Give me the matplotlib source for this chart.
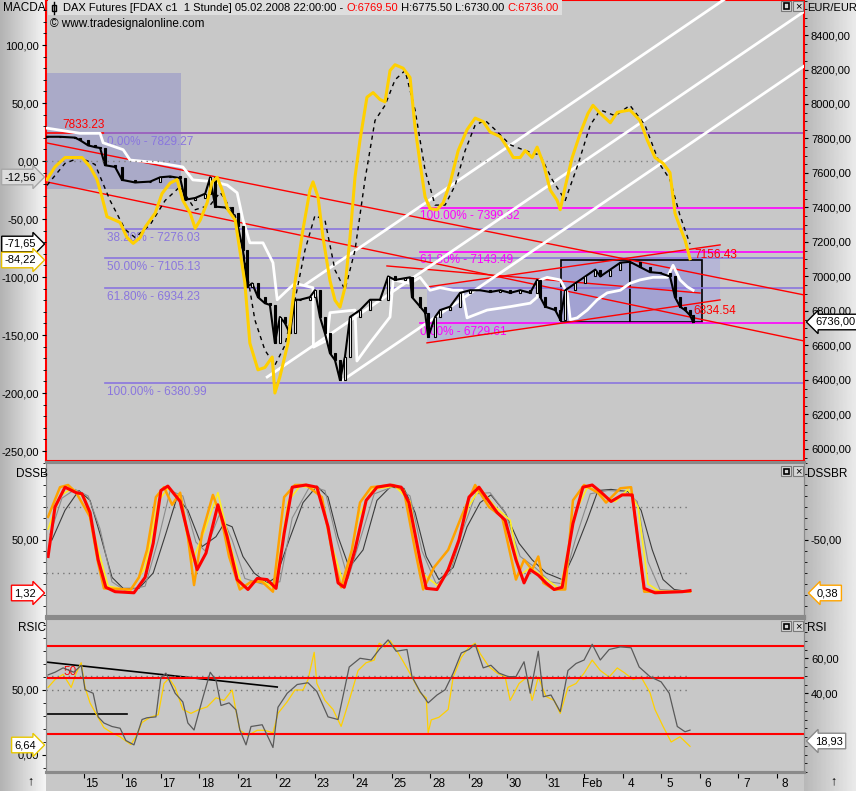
import matplotlib
matplotlib.use('Agg')
import matplotlib.pyplot as plt
import numpy as np
from matplotlib.patches import Rectangle, Polygon
from matplotlib.lines import Line2D
from matplotlib.ticker import FixedLocator, FixedFormatter, MultipleLocator, FuncFormatter

plt.rcParams['font.family'] = ['Liberation Sans', 'DejaVu Sans']
plt.rcParams['font.size'] = 8

W, H = 856, 791

# time axis: trading days since Mon 14 Jan 2008 (1 = Jan 15, ..., 14 = Feb 1, 15 = Feb 4)
day_ticks = list(range(1, 20))
day_labels = ['15', '16', '17', '18', '21', '22', '23', '24', '25', '28', '29', '30', '31',
              'Feb', '4', '5', '6', '7', '8']

# ---------------- DAX future closes ----------------
price_t = [0.05, 0.39, 0.78, 0.91, 1.12, 1.30, 1.43, 1.56, 1.82, 2.00, 2.34, 2.73, 2.99, 3.25, 3.51,
           3.64, 3.90, 4.16, 4.29, 4.42, 4.68, 4.86, 5.01, 5.14, 5.25, 5.38, 5.53, 5.71, 5.84, 5.97,
           6.10, 6.23, 6.36, 6.49, 6.62, 6.88, 7.01, 7.14, 7.27, 7.40, 7.53, 7.66, 7.79, 7.92, 8.18,
           8.44, 8.70, 8.91, 9.09, 9.35, 9.48, 9.53, 9.74, 9.87, 9.95, 10.13, 10.26, 10.52, 10.78,
           11.04, 11.30, 11.56, 11.82, 12.08, 12.34, 12.60, 12.78, 12.86, 12.99, 13.25, 13.38, 13.51,
           13.77, 14.03, 14.29, 14.42, 14.68, 14.94, 15.19, 15.45, 15.71, 15.97, 16.23, 16.36, 16.49,
           16.62, 16.75, 16.83]
price_c = [7810, 7810, 7805, 7790, 7760, 7750, 7745, 7645, 7635, 7560, 7545, 7550, 7575, 7580, 7570,
           7445, 7455, 7480, 7575, 7405, 7400, 7370, 7290, 7155, 6940, 6960, 6880, 6845, 6835, 6615,
           6765, 6730, 6670, 6865, 6865, 6880, 6920, 6765, 6670, 6555, 6515, 6400, 6535, 6765, 6805,
           6865, 6865, 7000, 6980, 6990, 6995, 6880, 6825, 6790, 6650, 6765, 6805, 6825, 6905,
           6920, 6920, 6910, 6920, 6905, 6920, 6905, 6980, 6880, 6825, 6805, 6750, 6920,
           6960, 7000, 7040, 7000, 7040, 7080, 7085, 7055, 7025, 7020, 7000, 6880, 6825,
           6805, 6775, 6736]

# white trailing average
wma_t = [0.05, 0.91, 1.43, 1.51, 2.03, 2.21, 2.91, 3.58, 3.84, 4.36, 4.73, 4.99, 5.14, 5.32, 5.66,
         5.92, 6.03, 6.29, 6.49, 6.96, 6.97, 7.32, 7.40, 8.05, 8.10, 8.44, 8.96, 9.04, 9.48, 9.74,
         10.00, 10.26, 10.60, 10.83, 10.96, 11.48, 12.08, 12.60, 12.78, 12.86, 13.04, 13.38, 13.56,
         13.64, 13.82, 14.08, 14.34, 14.60, 14.94, 15.19, 15.45, 15.79, 16.16, 16.31, 16.49, 16.68, 16.83]
wma_v = [7860, 7830, 7830, 7775, 7735, 7675, 7660, 7635, 7560, 7550, 7530, 7485, 7330, 7195, 7195,
         7080, 6865, 6920, 6960, 6935, 6590, 6630, 6790, 6805, 6510, 6615, 6765, 6980, 6960, 6995,
         6920, 6935, 6920, 6920, 6760, 6805, 6825, 6845, 6880, 6980, 6995, 6980, 6905,
         6750, 6760, 6805, 6865, 6905, 6920, 6960, 6980, 6995, 6995, 7065, 6980, 6940, 6920]

# MACD (yellow) and signal (black dashed)
macd_t = [0.05, 0.26, 0.52, 0.78, 0.96, 1.17, 1.35, 1.48, 1.61, 1.82, 1.95, 2.13, 2.29, 2.47, 2.60,
          2.86, 3.04, 3.25, 3.43, 3.58, 3.77, 3.90, 4.03, 4.21, 4.34, 4.47, 4.60, 4.75, 4.94, 5.06,
          5.19, 5.32, 5.53, 5.71, 5.90, 5.97, 6.10, 6.31, 6.49, 6.70, 6.88, 6.96, 7.09, 7.22, 7.40,
          7.53, 7.66, 7.79, 7.92, 8.05, 8.18, 8.36, 8.52, 8.70, 8.83, 8.96, 9.09, 9.30, 9.48, 9.61,
          9.74, 9.87, 10.00, 10.18, 10.34, 10.52, 10.73, 10.96, 11.17, 11.38, 11.56, 11.82, 12.00,
          12.16, 12.34, 12.47, 12.65, 12.78, 12.94, 13.12, 13.30, 13.38, 13.51, 13.69, 13.90, 14.10,
          14.23, 14.42, 14.68, 14.86, 15.19, 15.45, 15.64, 15.84, 16.05, 16.23, 16.36, 16.49, 16.62, 16.75]
macd_v = [-16, -5, 3, 3, 3, -5, -16, -31, -48, -51, -53, -66, -71, -66, -57,
          -45, -28, -19, -16, -34, -45, -58, -51, -36, -18, -14, -25, -42, -51, -77,
          -105, -157, -180, -178, -169, -200, -186, -157, -105, -59, -25, -18, -31, -66, -103,
          -120, -126, -109, -66, -14, 18, 55, 59, 53, 51, 78, 83, 80, 72, 29,
          -2, -31, -41, -42, -36, -19, 9, 27, 37, 34, 25, 21, 12,
          3, 3, 9, 3, 12, -2, -25, -34, -42, -22, 3, 24, 41,
          48, 41, 33, 42, 44, 35, 18, 3, -2, -10, -45, -57, -68, -84.22]
sig_t = [0.05, 0.52, 0.91, 1.30, 1.69, 2.08, 2.34, 2.73, 3.12, 3.51, 3.90, 4.29, 4.55, 4.94, 5.19,
         5.45, 5.71, 5.97, 6.23, 6.49, 6.75, 7.01, 7.27, 7.53, 7.79, 8.05, 8.31, 8.57, 8.83, 9.09,
         9.35, 9.61, 9.87, 10.13, 10.39, 10.65, 10.91, 11.17, 11.43, 11.69, 12.08, 12.47, 12.86,
         13.17, 13.51, 13.84, 14.16, 14.42, 14.81, 15.19, 15.58, 15.97, 16.23, 16.49, 16.75]
sig_v = [-21, -2, 3, -3, -34, -59, -66, -55, -34, -22, -42, -38, -27, -47, -85,
         -137, -163, -176, -159, -120, -77, -47, -51, -94, -111, -77, -16, 35, 48, 70,
         78, 44, -8, -38, -38, -21, 9, 31, 35, 27, 14, 9, 5,
         -16, -34, -3, 31, 44, 39, 48, 31, -3, -16, -47, -71.65]

# Fibonacci retracements and drawing tools (price levels / anchor points)
fib1_levels = [7829.27, 7276.03, 7105.13, 6934.23, 6380.99]
fib1_labels = ['0.00% - 7829.27', '38.20% - 7276.03', '50.00% - 7105.13', '61.80% - 6934.23', '100.00% - 6380.99']
fib2_levels = [7399.32, 7143.49, 6729.61]
fib2_labels = ['100.00% - 7399.32', '61.80% - 7143.49', '0.00% - 6729.61']
high_level = 7833.23
red_trend = [((0.05, 7774), (19.71, 6893)), ((0.05, 7548), (19.71, 6626)),
             ((8.88, 7061), (17.01, 6904)), ((9.92, 6615), (17.53, 6864)),
             ((9.92, 6939), (17.53, 7183))]
fork_pivots = [(6.75, 6951), (5.77, 6417), (7.74, 6400)]
fork_slope = 152.0  # points per day

# ---------------- DSSB panel ----------------
dred_t = [0.08, 0.26, 0.52, 0.81, 0.96, 1.17, 1.38, 1.58, 1.82, 2.31, 2.60, 2.81, 3.01, 3.19, 3.51,
          3.71, 3.95, 4.18, 4.49, 4.73, 4.99, 5.27, 5.51, 5.77, 6.00, 6.21, 6.42, 6.78, 7.06, 7.35,
          7.61, 7.77, 8.05, 8.34, 8.62, 8.96, 9.25, 9.45, 9.74, 9.90, 10.18, 10.47, 10.75, 11.01, 11.27,
          11.45, 11.74, 11.95, 12.23, 12.44, 12.60, 12.81, 13.01, 13.22, 13.43, 13.71, 13.97, 14.21,
          14.42, 14.70, 14.99, 15.25, 15.43, 15.56, 15.84, 16.55, 16.75]
dred_v = [35, 80, 98, 93, 92, 75, 32, 7, 3, 2, 16, 47, 95, 99, 85,
          56, 23, 38, 82, 53, 14, 5, 15, 14, 6, 56, 98, 100, 98, 62,
          11, 7, 41, 86, 98, 100, 98, 84, 32, 6, 5, 23, 50, 89, 98,
          89, 75, 68, 32, 11, 23, 18, 11, 5, 7, 65, 98, 100,
          94, 85, 91, 91, 41, 6, 2, 3, 4]
dora_t = [0.08, 0.39, 0.60, 0.81, 1.17, 1.38, 1.53, 2.23, 2.44, 2.65, 2.88, 3.09, 3.30, 3.51, 3.71,
          3.87, 4.08, 4.36, 4.57, 4.78, 5.06, 5.35, 5.64, 5.92, 6.21, 6.49, 6.78, 7.19, 7.48, 7.69,
          7.97, 8.18, 8.47, 9.04, 9.32, 9.61, 9.82, 10.10, 10.47, 10.81, 11.17, 11.53, 11.87, 12.23,
          12.44, 12.65, 12.81, 12.94, 13.22, 13.51, 13.71, 14.00, 14.36, 14.57, 14.94, 15.22, 15.43,
          15.56, 16.75]
dora_v = [71, 98, 100, 93, 71, 29, 6, 5, 16, 41, 89, 98, 82, 93, 53,
          9, 56, 91, 71, 35, 5, 12, 12, 3, 89, 100, 100, 89, 35, 7,
          41, 84, 98, 100, 95, 41, 5, 25, 41, 71, 100, 80, 71, 14,
          32, 23, 35, 11, 5, 5, 86, 100, 93, 84, 97, 98, 41,
          3, 3]
dyel_t = [0.08, 0.39, 0.70, 1.04, 1.35, 1.64, 2.21, 2.60, 2.94, 3.19, 3.51, 3.82, 4.16, 4.49, 4.81,
          5.12, 5.58, 5.97, 6.31, 6.62, 7.09, 7.45, 7.77, 8.13, 8.49, 9.09, 9.48, 9.79, 10.21, 10.57,
          10.99, 11.30, 11.69, 12.08, 12.34, 12.60, 12.99, 13.38, 13.77, 14.10, 14.49, 14.81, 15.14,
          15.40, 15.66, 15.97, 16.75]
dyel_v = [60, 90, 97, 88, 45, 8, 4, 25, 85, 97, 88, 30, 60, 93, 45,
          8, 14, 6, 85, 99, 97, 45, 8, 70, 96, 99, 85, 20, 8, 30,
          80, 97, 80, 68, 18, 25, 15, 5, 75, 99, 90, 85, 96,
          80, 10, 3, 3]
dgry_t = [0.13, 0.44, 0.78, 1.12, 1.43, 1.74, 2.08, 2.60, 2.94, 3.25, 3.58, 3.92, 4.16, 4.55, 4.86,
          5.19, 5.64, 6.10, 6.42, 6.88, 7.27, 7.58, 7.87, 8.18, 8.55, 9.09, 9.48, 9.79, 10.16, 10.52,
          10.86, 11.19, 11.56, 11.95, 12.34, 12.73, 13.12, 13.45, 13.77, 14.16, 14.62, 15.06, 15.38,
          15.66, 15.97, 16.75]
dgry_v = [55, 88, 96, 90, 60, 12, 4, 8, 50, 95, 90, 48, 40, 75, 50,
          15, 10, 12, 70, 99, 95, 50, 15, 50, 92, 99, 90, 40, 10, 20,
          60, 92, 93, 75, 35, 25, 12, 10, 50, 92, 95, 94, 85,
          30, 5, 3]
ddrk_t = [0.18, 0.52, 0.88, 1.17, 1.45, 1.74, 2.03, 2.44, 2.81, 3.14, 3.43, 3.71, 4.08, 4.44, 4.65,
          4.86, 5.14, 5.43, 5.77, 6.00, 6.34, 6.70, 7.06, 7.35, 7.61, 7.90, 8.26, 8.62, 8.96, 9.32,
          9.61, 9.90, 10.23, 10.60, 10.96, 11.30, 11.58, 11.95, 12.31, 12.65, 13.01, 13.43, 13.71,
          14.08, 14.36, 14.70, 15.14, 15.48, 15.77, 16.05, 16.34, 16.75]
ddrk_v = [50, 77, 95, 86, 53, 16, 6, 6, 20, 56, 89, 77, 44, 53, 65,
          62, 35, 20, 11, 16, 50, 84, 99, 89, 53, 25, 41, 86, 98, 97,
          75, 35, 14, 25, 62, 84, 91, 75, 47, 32, 20, 14, 35,
          68, 95, 96, 94, 77, 41, 14, 5, 3]

# ---------------- RSIC / RSI panel ----------------
rsic_t = [0.08, 0.26, 0.47, 0.68, 0.81, 0.94, 1.04, 1.17, 1.32, 1.53, 1.74, 1.95, 2.23, 2.36, 2.52,
          2.73, 2.94, 3.09, 3.22, 3.38, 3.58, 3.79, 4.00, 4.21, 4.44, 4.65, 4.86, 4.94, 5.06, 5.27,
          5.51, 5.71, 5.92, 6.05, 6.29, 6.49, 6.70, 6.83, 6.99, 7.06, 7.27, 7.48, 7.69, 7.90, 8.13,
          8.34, 8.55, 8.68, 8.83, 8.96, 9.12, 9.32, 9.53, 9.74, 9.90, 9.95, 10.03, 10.23, 10.47, 10.60,
          10.81, 11.01, 11.17, 11.30, 11.53, 11.74, 11.95, 12.08, 12.31, 12.52, 12.65, 12.81, 13.01,
          13.22, 13.38, 13.58, 13.79, 14.00, 14.21, 14.42, 14.65, 14.86, 15.06, 15.27, 15.48, 15.71,
          15.84, 16.05, 16.26, 16.49, 16.75]
rsic_v = [52, 58, 62, 52, 63, 71, 52, 40, 32, 21, 17, 14, 8, 14, 25,
          29, 31, 55, 59, 52, 35, 32, 35, 37, 44, 42, 50, 37, 19, 15,
          19, 19, 17, 32, 41, 50, 50, 58, 79, 55, 42, 35, 22, 42, 65,
          71, 73, 86, 83, 88, 81, 71, 60, 48, 44, 17, 27, 29, 35, 60,
          75, 83, 86, 78, 68, 63, 60, 42, 55, 60, 42, 60, 45,
          42, 32, 52, 55, 63, 73, 65, 60, 67, 63, 58, 60, 48,
          35, 22, 10, 14, 6.64]
rsi_t = [0.08, 0.26, 0.47, 0.75, 0.94, 1.04, 1.25, 1.38, 1.53, 1.74, 1.95, 2.10, 2.31, 2.52, 2.65,
         2.88, 3.01, 3.14, 3.38, 3.58, 3.71, 3.87, 4.08, 4.29, 4.44, 4.57, 4.78, 4.96, 5.06, 5.22,
         5.35, 5.64, 5.92, 6.05, 6.29, 6.55, 6.83, 7.06, 7.35, 7.61, 7.90, 8.18, 8.47, 8.68, 8.91,
         9.12, 9.40, 9.53, 9.74, 9.95, 10.18, 10.39, 10.60, 10.81, 11.01, 11.17, 11.38, 11.58, 11.79,
         12.03, 12.23, 12.44, 12.60, 12.81, 12.94, 13.14, 13.38, 13.58, 13.79, 14.00, 14.21, 14.42,
         14.65, 14.94, 15.22, 15.43, 15.71, 16.00, 16.21, 16.42, 16.62, 16.75]
rsi_v = [50.5, 52, 54.5, 52, 56, 42, 40, 26.5, 23, 21, 20, 13, 10.5, 25, 26,
         26.5, 49, 51.5, 40, 35, 23, 19, 36, 52, 47.5, 33, 34.5, 30.5, 19, 10.5,
         21, 22, 9, 32, 40, 45, 46, 41, 26.5, 25, 55, 60, 59, 65, 70.5,
         64, 65, 49.5, 41, 34.5, 39, 42, 51.5, 63, 65, 68, 54.5, 56, 51.5,
         49.5, 49.5, 58, 40, 64, 38, 39, 29.5, 53, 57, 59, 68, 59,
         65, 66.5, 66, 55, 49.5, 46.5, 40, 21, 18, 18.93]
rsi_bands = [67, 49, 17]
rsic_trend = [(0.03, 71.5), (6.03, 52.3)]
rsic_flat = [(0.03, 31.5), (2.13, 31.5)]

T0, T1 = 0.026, 19.71
BG = '#c8c8c8'
PURPLE = '#8a76de'
MAGENTA = '#ff00ff'


def fx(px):
    return px / W


def fy(py):
    return 1 - py / H


def de(v, _=None):
    return f"{v:.2f}".replace('.', ',')


def style_y(a, side, major, minor):
    a.yaxis.set_ticks_position(side)
    a.yaxis.set_major_locator(FixedLocator(major))
    a.yaxis.set_minor_locator(MultipleLocator(minor))
    a.yaxis.set_major_formatter(FuncFormatter(de))
    a.tick_params(axis='y', which='major', length=3, pad=2, labelsize=8)
    a.tick_params(axis='y', which='minor', length=2)


fig = plt.figure(figsize=(W / 100, H / 100), dpi=100, facecolor=BG)

# gradient axis strips
for x0, x1, c0, c1 in [(0, 46, 0.70, 0.96), (804, 856, 0.72, 0.92)]:
    sa = fig.add_axes([fx(x0), 0, fx(x1) - fx(x0), 1])
    sa.imshow(np.linspace(c0, c1, 64).reshape(1, -1), aspect='auto', cmap='gray',
              vmin=0, vmax=1, extent=[0, 1, 0, 1])
    sa.axis('off')

# ================= main panel =================
ax = fig.add_axes([fx(46), fy(461), fx(804) - fx(46), 461 / H])
ax2 = ax.twinx()
ax.set_facecolor(BG)
ax.set_xlim(T0, T1)
ax.set_ylim(5930, 8603)
ax.set_xticks([])
style_y(ax, 'right', np.arange(6000, 8401, 200), 50)
ax.tick_params(axis='y', labelleft=False, labelright=True)
for s in ax.spines.values():
    s.set_color('red')
    s.set_linewidth(1.5)

# shaded zones
ax.add_patch(Rectangle((T0, 7507), 3.53 - T0, 8180 - 7507, fc='#aaaac8', ec='none', zorder=1))
ax.add_patch(Polygon([(9.92, 6615), (17.53, 6864), (17.53, 7183), (9.92, 6939)],
                     closed=True, fc='#b6b6d6', ec='none', zorder=1))
for a, b in [(13.40, 15.19), (15.19, 17.06)]:
    ax.add_patch(Rectangle((a, 6736), b - a, 7096 - 6736, fc='#a2a2d2', ec='black', lw=1.2, zorder=1.5))

# horizontal levels
ax.plot([T0, T1], [high_level, high_level], color='red', lw=1.2, zorder=2)
ax.annotate(f"{high_level:.2f}", (0.44, high_level), xytext=(0, 1), textcoords='offset points',
            color='red', fontsize=8.5, va='bottom')
for lv, lb in zip(fib1_levels, fib1_labels):
    ax.plot([1.57, T1], [lv, lv], color=PURPLE, lw=1.2, zorder=2)
    ax.annotate(lb, (1.60, lv), xytext=(0, -2), textcoords='offset points',
                color=PURPLE, fontsize=8.5, va='top', zorder=2)
for lv, lb in zip(fib2_levels, fib2_labels):
    ax.plot([9.74, T1], [lv, lv], color=MAGENTA, lw=1.2, zorder=2)
    ax.annotate(lb, (9.74, lv), xytext=(0, -2), textcoords='offset points',
                color=MAGENTA, fontsize=8.5, va='top', zorder=2)

for (x0, y0), (x1, y1) in red_trend:
    ax.plot([x0, x1], [y0, y1], color='red', lw=1.0, zorder=2.2)
ax.text(16.85, 7156.43, '7156.43', color='red', fontsize=8.5, va='top', zorder=6)
ax.text(16.83, 6834.54, '6834.54', color='red', fontsize=8.5, va='top', zorder=6)

# pitchfork (white)
for px0, py0 in fork_pivots:
    ax.plot([px0, T1], [py0, py0 + fork_slope * (T1 - px0)], color='white', lw=2, zorder=3)

ax.plot(wma_t, wma_v, color='white', lw=2, zorder=3.2)

# candles
pt = np.array(price_t)
pc = np.array(price_c, dtype=float)
prev = np.r_[pc[0], pc[:-1]]
lo = np.minimum(prev, pc)
hi = np.maximum(prev, pc)
up = pc >= prev
ax.plot(pt, pc, color='black', lw=1.5, zorder=4)
ax.bar(pt[up], (hi - lo)[up], bottom=lo[up], width=0.06, color='white', edgecolor='black', lw=0.8, zorder=4.1)
ax.bar(pt[~up], (hi - lo)[~up], bottom=lo[~up], width=0.06, color='black', edgecolor='black', lw=0.8, zorder=4.1)

# MACD on the left scale
ax2.set_ylim(-258.6, 138.8)
style_y(ax2, 'left', np.arange(-250, 101, 50), 10)
ax2.tick_params(axis='y', labelleft=True, labelright=False)
for s in ax2.spines.values():
    s.set_visible(False)
ax2.plot([T0, 15.97], [0, 0], color='#808080', lw=1, ls=(0, (1, 3)))
ax2.plot(sig_t, sig_v, color='black', lw=1, ls=(0, (3, 3)))
ax2.plot(macd_t, macd_v, color='#ffd000', lw=2.2)

# ================= DSSB panel =================
axd = fig.add_axes([fx(46), fy(616), fx(804) - fx(46), (616 - 462) / H])
axd2 = axd.twinx()
axd.set_facecolor(BG)
axd.set_xlim(T0, T1)
axd.set_ylim(-19.1, 120.9)
axd.set_xticks([])
style_y(axd, 'left', [50], 10)
axd.tick_params(axis='y', labelleft=True, labelright=False)
for lv in (80, 20):
    axd.plot([T0, 16.75], [lv, lv], color='#777777', lw=1, ls=(0, (1, 3)))
axd.plot(ddrk_t, ddrk_v, color='#3c3c3c', lw=0.8)
axd.plot(dgry_t, dgry_v, color='#8c8c8c', lw=0.8)
axd.plot(dyel_t, dyel_v, color='#ffee20', lw=1.2)
axd.plot(dora_t, dora_v, color='#ffa200', lw=1.8)
axd.plot(dred_t, dred_v, color='#ff0000', lw=2.2)
axd2.set_ylim(-119.1, 20.9)
style_y(axd2, 'right', [-50], 10)
axd2.tick_params(axis='y', labelleft=False, labelright=True)

# ================= RSIC panel =================
axr = fig.add_axes([fx(46), fy(772), fx(804) - fx(46), (772 - 618) / H])
axr2 = axr.twinx()
axr.set_facecolor(BG)
axr.set_xlim(T0, T1)
axr.set_ylim(-13.1, 105.4)
style_y(axr, 'left', [0, 50], 10)
axr.tick_params(axis='y', labelleft=True, labelright=False)
axr.xaxis.set_major_locator(FixedLocator(day_ticks))
axr.xaxis.set_minor_locator(FixedLocator([d + 0.22 for d in day_ticks]))
axr.xaxis.set_minor_formatter(FixedFormatter(day_labels))
axr.tick_params(axis='x', which='major', length=4, labelbottom=False)
axr.tick_params(axis='x', which='minor', length=0, pad=4, labelsize=8.5)
axr.plot([T0, 16.75], [50, 50], color='#777777', lw=1, ls=(0, (1, 3)))
axr.plot([p[0] for p in rsic_trend], [p[1] for p in rsic_trend], color='black', lw=1.2)
axr.plot([p[0] for p in rsic_flat], [p[1] for p in rsic_flat], color='black', lw=1.2)
axr.text(0.47, 63.8, '50', color='red', fontsize=8.5, va='center')
axr.plot(rsic_t, rsic_v, color='#ffd000', lw=0.9)
axr2.set_ylim(-5.0, 83.0)
style_y(axr2, 'right', [40, 60], 5)
axr2.tick_params(axis='y', labelleft=False, labelright=True)
axr2.plot([T0, 16.75], [50, 50], color='#777777', lw=1, ls=(0, (1, 3)))
for lv in rsi_bands:
    axr2.plot([T0, T1], [lv, lv], color='red', lw=1.5)
axr2.plot(rsi_t, rsi_v, color='#5a5a5a', lw=0.9)

for a in (axd, axd2, axr, axr2):
    for s in a.spines.values():
        s.set_color('#8a8a8a')
    a.spines['top'].set_linewidth(2.2)
    a.spines['bottom'].set_linewidth(2.2)

# ================= figure-level text =================
fig.text(fx(3), fy(8), 'MACDA', va='center', fontsize=8.5)
fig.text(fx(807), fy(8), 'EUR/EUR', va='center', fontsize=8)
fig.text(fx(16), fy(474), 'DSSB', va='center', fontsize=8.5)
fig.text(fx(807), fy(474), 'DSSBR', va='center', fontsize=8.5)
fig.text(fx(18), fy(628), 'RSIC', va='center', fontsize=8.5)
fig.text(fx(807), fy(628), 'RSI', va='center', fontsize=8.5)
fig.text(fx(30), fy(781), '\u2191', ha='center', va='center', fontsize=9)
fig.text(fx(833), fy(781), '\u2191', ha='center', va='center', fontsize=9)

# header
hdr_box = Rectangle((fx(48), fy(15)), fx(553) - fx(48), 15 / H, transform=fig.transFigure,
                    fc='#dedede', ec='none')
fig.add_artist(hdr_box)
fig.add_artist(Line2D([fx(54), fx(54)], [fy(2), fy(14)], transform=fig.transFigure, color='black', lw=1))
fig.add_artist(Rectangle((fx(52), fy(11)), 4 / W, 6 / H, transform=fig.transFigure,
                         fc='#dedede', ec='black', lw=1))
header_parts = [("DAX Futures [FDAX c1  1 Stunde] 05.02.2008 22:00:00 - ", 'black'),
                ("O:6769.50", 'red'), (" H:6775.50 L:6730.00 ", 'black'), ("C:6736.00", 'red')]
renderer = fig.canvas.get_renderer()
xpos = 63
for s, c in header_parts:
    t = fig.text(fx(xpos), fy(8), s, color=c, va='center', fontsize=8)
    xpos += t.get_window_extent(renderer=renderer).width
hdr_box.set_width(fx(xpos + 3) - fx(48))
fig.text(fx(50), fy(24), '\u00a9 www.tradesignalonline.com', va='center', fontsize=8.5)


# panel buttons
def buttons(y):
    for x0 in (781, 793):
        fig.add_artist(Rectangle((fx(x0), fy(y + 10)), 10 / W, 10 / H, transform=fig.transFigure,
                                 fc='#d6d6d6', ec='#7a7a7a', lw=0.8))
    fig.add_artist(Rectangle((fx(783.5), fy(y + 7.5)), 5 / W, 5 / H, transform=fig.transFigure,
                             fill=False, ec='black', lw=1.2))
    fig.text(fx(798), fy(y + 5), '\u00d7', ha='center', va='center', fontsize=8)


for yb in (1, 466, 621):
    buttons(yb)


# value tags
def tag(x, y, s, ec, fc='white', side='left'):
    if side == 'left':
        fig.text(fx(x), fy(y), s, ha='right', va='center', fontsize=8,
                 bbox=dict(boxstyle='rarrow,pad=0.25', fc=fc, ec=ec, lw=1))
    else:
        fig.text(fx(x), fy(y), s, ha='left', va='center', fontsize=8,
                 bbox=dict(boxstyle='larrow,pad=0.25', fc=fc, ec=ec, lw=1))


tag(36, 177, '-12,56', '#a8a8a8', fc='#dcdcdc')
tag(36, 244, '-71,65', 'black')
tag(36, 260, '-84,22', '#e8c000')
tag(36, 593, '1,32', 'red')
tag(36, 745, '6,64', '#e8c800')
tag(815, 322, '6736,00', 'black', side='right')
tag(817, 593, '0,38', '#ffa500', side='right')
tag(815, 741, '18,93', '#8a8a8a', side='right')

fig.savefig('out.png', dpi=100, facecolor=BG)
